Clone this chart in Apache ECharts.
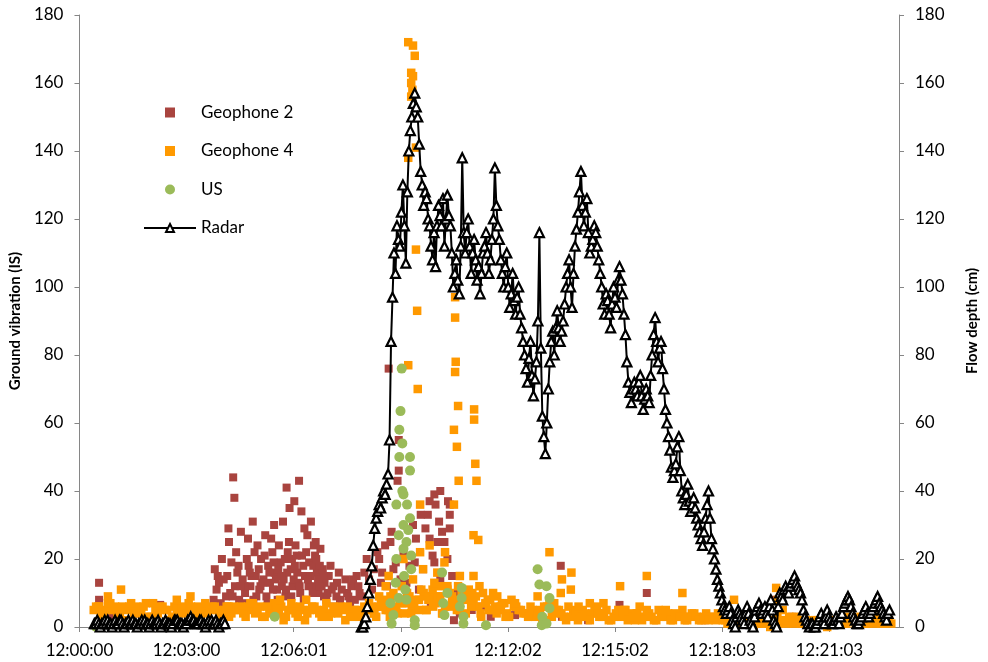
<!DOCTYPE html>
<html><head><meta charset="utf-8">
<script src="https://cdn.jsdelivr.net/npm/echarts@6/dist/echarts.min.js"></script>
<style>html,body{margin:0;padding:0;background:#fff}#c{width:988px;height:662px}</style>
</head><body><div id="c"></div>
<script>
// x values are seconds after 12:00:00
const xTickInterval = 180.5;
const xMax = 1381;
const yTicks = {min: 0, max: 180, interval: 20};

// Radar flow depth (cm), regular 2.5 s samples
const radarStep = 2.5;
const radarEarlyStart = 25;
const radarEarly = [1,1,2,1,0,1,1,2,1,2, 1,1,0,1,2,1,1,2,2,1, 0,1,1,2,1,1,2,1,1,0, 1,1,2,1,2,1,1,0,1,2,
1,1,1,2,1,0,1,1,2,1, 1,1,0,1,2,2,2,1,1,1, 0,1,1,2,2,3,2,2,1,1, 1,2,2,1,1,0,1,2,1,2, 1,1,2,1,0,1,1,2,1];
const radarMainStart = 475;
const radarMain = [0,0,1,3,6,10,14,18,24,29,32,34,36,35,38,40,39,42,45,55,84,97,110,104,118,114,112,122,130,118,107,128,140,146,150,154,157,153,150,142,
134,130,124,128,126,120,118,112,108,116,106,118,124,121,118,126,112,120,127,121,118,110,100,104,108,102,98,112,138,116,110,116,120,112,104,110,114,108,102,106,
98,104,110,112,116,110,104,108,114,120,135,124,118,114,108,104,100,106,110,100,94,98,104,96,92,97,100,92,88,84,80,76,72,79,84,74,68,73,78,90,
116,82,62,56,51,60,70,78,84,87,80,88,93,88,84,87,90,95,100,104,108,100,94,104,112,117,122,128,134,124,118,122,126,116,110,112,114,118,116,112,
108,104,100,95,92,98,96,92,88,95,100,97,94,102,106,102,98,92,86,78,72,69,66,70,72,70,68,72,74,68,64,67,70,68,66,74,80,86,91,84,
78,82,84,76,70,64,60,56,52,47,44,46,48,53,56,46,40,38,36,39,42,37,34,36,38,35,32,30,28,26,24,28,32,36,40,32,26,23,20,17,
14,12,10,8,6,5,4,5,6,4,2,1,0,3,5,4,3,2,1,4,6,4,2,1,0,3,5,6,7,5,4,5,6,4,3,6,8,5,2,1,
0,6,10,9,8,11,12,11,10,12,13,14,15,13,12,11,10,8,5,3,2,1,0,1,1,0,0,1,2,3,4,2,1,3,5,3,2,1,1,2,
3,2,1,3,4,6,7,8,9,8,6,4,3,2,1,1,2,3,4,5,6,4,3,4,5,6,7,8,9,7,6,5,4,3,2,4,5];

// Geophone 2 (IS): [seconds, value]
const geo2 = [[33,13],[33,8],[136,6.5],[54,3],[103,4],[169,5],[202,4],[120,2],
[228,17],[231,11],[238,7],[243,14],[247,9],[251,29],[252,25],[256,19],[259,44],[261,38],[262,12],[266,16],[269,8],[272,28],[275,14],[279,10],[284,26],[285,18],[288,12],[292,31],[293,8],[297,15],[300,24],[303,11],[306,20],[310,14],[313,27],[315,9],[318,18],[321,13],[325,22],[328,30],[329,16],[333,11],[336,24],[339,19],[343,31],[344,14],[347,9],[349,41],[351,22],[354,35],[356,17],[359,12],[362,37],[364,24],[367,16],[370,43],[372,10],[374,34],[375,21],[379,29],[380,15],[384,27],[387,19],[390,31],[392,12],[395,24],[398,25],[400,16],[403,10],[406,23],[410,17],[413,13],[416,8],[420,15],[425,11],[429,6],[434,13],[439,8],[444,5],[451,10],[456,7],[461,14],[467,15],[472,10],
[235,13],[240,20],[249,15],[254,10],[264,22],[268,18],[278,12],[282,20],[290,15],[295,22],[302,17],[308,13],[312,21],[320,16],[323,26],[327,19],[331,14],[335,17],[341,12],[346,20],[350,16],[353,25],[358,20],[361,14],[366,21],[369,13],[377,18],[382,22],[386,12],[389,15],[394,18],[397,21],[402,14],[405,18],[408,12],[412,9],
[226,8],[233,15],[245,6],[258,9],[271,12],[281,7],[287,16],[298,9],[305,12],[317,7],[326,11],[334,8],[340,15],[348,11],[357,9],[363,18],[371,12],[378,8],[385,14],[393,10],[399,20],[404,12],[411,15],[418,10],[423,18],[428,12],[433,9],[437,16],[442,11],[448,14],[453,9],[458,12],[464,8],[470,12],[476,9],[480,16],[488,14],[496,17],[508,13],
[484,20],[493,11],[502,22],[505,20],[510,16],[515,24],[518,12],[521,76],[524,25],[526,28],[529,17],[533,19],[536,43],[538,46],[538,55],[541,14],[546,22],[551,13],[556,18],[562,30],[565,19],[567,26],[572,11],[575,33],[579,17],[583,29],[587,33],[590,37],[590,26],[592,7],[595,21],[598,39],[598,19],[600,36],[603,25],[606,31],[608,40],[608,14],[611,28],[615,25],[620,20],[621,37],[624,36],[624,33],[624,29],[628,15],[631,2],[636,10],[641,4],[647,8],[661,5],[677,6],[693,3],[734,3.5],[767,4],[811,18],[813,3],[857,2],[910,6.5],[956,10],[1013,3.5],[1054,2],[1172,8],[1201,3]];

// Geophone 4 (IS): low band in two interleaved 8 s runs, plus higher readings
const geo4BandStep = 8;
const geo4BandAStart = 24;
const geo4BandA = [5,6,3,7,5,4,6,2,5,6,4,7,3,5,6,5,2,6,4,5,7,3,6,5,4,6,5,3,6,4,5,6,3,5,
4,6,3,5,7,4,2,5,6,3,5,4,6,5,3,7,4,5,6,2,4,5,3,6,5,4,
6,8,5,9,4,7,10,6,8,11,5,9,7,12,6,10,8,5,9,11,7,6,10,8,5,9,7,4,8,6,5,
4,6,3,5,2,7,4,5,3,6,4,2,5,3,4,6,3,5,2,4,3,5,4,2,6,3,4,2,5,3,4,2,3,5,2,4,3,2,4,3,2,3,
2,1,3,2,1,2,0,3,1,2,1,3,2,1,2,3,1,2,0,2,1,3,2,1,2,1,3,2,1,2,1,2,3,1,2,1];
const geo4BandBStart = 28;
const geo4BandB = [6,4,5,7,6,3,5,6,4,5,6,3,7,4,6,5,3,5,6,4,6,5,3,7,5,6,4,5,3,6,5,4,6,7,
5,3,6,4,5,6,3,5,4,6,2,5,6,4,5,3,6,4,5,6,3,5,4,5,6,3,
7,5,9,6,8,4,9,7,5,10,8,6,9,4,11,7,5,8,10,6,9,4,7,8,6,5,7,3,6,5,4,
3,5,4,2,6,3,5,4,2,3,5,3,4,2,5,3,4,2,3,5,4,2,3,4,2,5,3,2,4,3,2,4,3,2,3,4,2,3,2,3,4,2,
1,2,2,1,3,1,2,1,2,0,2,1,2,3,1,2,1,1,2,2,1,0,2,1,2,1,2,1,3,1,2,1,2,1,2];
const geo4Extra = [[33,6],[48,9],[70,11],[87,7],[164,8],[187,9],[288,7],[338,8],[357,7],[382,8],[251,6],
[516,12],[529,10],[543,12],[554,77],[570,70],[554,172],[562,171],[565,168],[559,163],[562,162],[559,160],[561,158],[559,156],[567,141],[554,138],[567,111],[569,93],[633,97],[633,91],[634,78],[633,75],[638,65],[665,64],[665,61],[631,58],[636,53],[667,48],[639,43],[669,43],[574,36],[631,36],[664,27],[672,25.6],[590,24],[616,22],[615,19],[574,22],[579,17],[641,15],[664,15],[674,12],[697,10],[734,7],[546,20],[562,14],[603,16],[620,12],[644,10],[657,8],[685,7],[710,6],[595,11],[582,9],[628,9],[505,9],[488,7],[521,15],[608,9],
[497,4],[510,6],[523,3],[534,5],[549,7],[559,4],[572,8],[585,5],[598,13],[611,4],[623,6],[638,12],[651,4],[662,10],[677,3],[690,5],[703,4],[718,3],
[792,22],[829,16],[813,14],[828,11],[811,10],[956,15],[911,12],[1016,10],[883,7],[918,5],[988,5],[1024,3],[860,7],[1103,8],[1174,11.5],[1177,8],[1185,5],[772,9],[783,6],[800,7],[841,6],[874,4],[939,4]];

// US (IS): [seconds, value]
const us = [[28,0],[116,0],[329,3],[543,76],[541,63.5],[539,58],[544,54],[539,50],[557,50],[557,46],[544,40],[546,39],[534,36],[552,36],[557,32],[546,30],[554,28.5],[546,23],[559,21],[534,20],[559,17],[547,15],[611,16],[644,11.5],[644,8.5],[538,8.5],[524,7],[551,8],[613,7],[529,3.5],[526,1],[565,2],[565,0.5],[615,3.5],[647,3],[647,1],[685,0.5],[772,17],[775,12.5],[787,12],[792,8.5],[792,5.5],[780,3],[779,0.5],[787,1],[533,13],[549,11],[538,27],[551,25],[641,6],[620,10]];

// ---- build series data ----
const radarData = [];
radarEarly.forEach((v, i) => radarData.push([radarEarlyStart + radarStep * i, v]));
radarData.push([(radarEarlyStart + radarStep * radarEarly.length + radarMainStart) / 2, null]);
radarMain.forEach((v, i) => radarData.push([radarMainStart + radarStep * i, v]));
const geo4Data = geo4BandA.map((v, i) => [geo4BandAStart + geo4BandStep * i, v])
  .concat(geo4BandB.map((v, i) => [geo4BandBStart + geo4BandStep * i, v]))
  .concat(geo4Extra);

function pad(n){return (n<10?'0':'')+n;}
function fmt(s){s=Math.floor(s+1e-6);return '12:'+pad(Math.floor(s/60))+':'+pad(s%60);}

const FONT = 'Lato';
const axisGray = '#868686';
const chart = echarts.init(document.getElementById('c'));
const sqIcon = 'path://M0,0L10,0L10,10L0,10Z';
chart.setOption({
  animation: false,
  backgroundColor: '#fff',
  textStyle: {fontFamily: FONT},
  grid: {left: 77, right: 68, top: 15, bottom: 35, containLabel: false},
  legend: {
    orient: 'vertical', left: 138, top: 99, itemWidth: 52, itemHeight: 10, itemGap: 21.5,
    textStyle: {fontFamily: FONT, fontSize: 17, color: '#000'},
    data: [
      {name: 'Geophone 2', icon: sqIcon, symbolKeepAspect: true},
      {name: 'Geophone 4', icon: sqIcon, symbolKeepAspect: true},
      {name: 'US', icon: 'circle'},
      {name: 'Radar'}
    ],
    selectedMode: false
  },
  xAxis: {
    type: 'value', min: 0, max: xMax, interval: xTickInterval,
    axisLine: {show: true, onZero: false, lineStyle: {color: axisGray, width: 1}},
    axisTick: {show: true, length: 5, lineStyle: {color: axisGray}},
    splitLine: {show: false},
    axisLabel: {formatter: fmt, fontFamily: FONT, fontSize: 17, color: '#000', margin: 15, showMaxLabel: false}
  },
  yAxis: [
    {type: 'value', min: yTicks.min, max: yTicks.max, interval: yTicks.interval, position: 'left',
     name: 'Ground vibration (IS)', nameLocation: 'middle', nameGap: 44,
     nameTextStyle: {fontFamily: FONT, fontSize: 15, fontWeight: 'bold', color: '#000'},
     axisLine: {show: true, lineStyle: {color: axisGray}},
     axisTick: {show: true, length: 5, lineStyle: {color: axisGray}},
     splitLine: {show: false},
     axisLabel: {fontFamily: FONT, fontSize: 17, color: '#000', margin: 16}},
    {type: 'value', min: yTicks.min, max: yTicks.max, interval: yTicks.interval, position: 'right',
     name: 'Flow depth (cm)', nameLocation: 'middle', nameGap: 66, nameRotate: 90,
     nameTextStyle: {fontFamily: FONT, fontSize: 15, fontWeight: 'bold', color: '#000'},
     axisLine: {show: true, lineStyle: {color: axisGray}},
     axisTick: {show: true, length: 5, lineStyle: {color: axisGray}},
     splitLine: {show: false},
     axisLabel: {fontFamily: FONT, fontSize: 17, color: '#000', margin: 16}}
  ],
  series: [
    {name: 'Geophone 2', type: 'scatter', data: geo2, symbol: 'rect', symbolSize: 8,
     itemStyle: {color: '#A9443F', opacity: 1}, clip: false, silent: true},
    {name: 'Geophone 4', type: 'scatter', data: geo4Data, symbol: 'rect', symbolSize: 8.5,
     itemStyle: {color: '#FF9900', opacity: 1}, clip: false, silent: true},
    {name: 'US', type: 'scatter', data: us, symbol: 'circle', symbolSize: 10,
     itemStyle: {color: '#9BBB59', opacity: 1}, clip: false, silent: true},
    {name: 'Radar', type: 'line', yAxisIndex: 1, data: radarData, symbol: 'triangle', symbolSize: 9,
     showAllSymbol: true, connectNulls: false, clip: false, silent: true,
     lineStyle: {color: '#000', width: 2},
     itemStyle: {color: '#fff', borderColor: '#000', borderWidth: 2.2}}
  ]
});
</script></body></html>
